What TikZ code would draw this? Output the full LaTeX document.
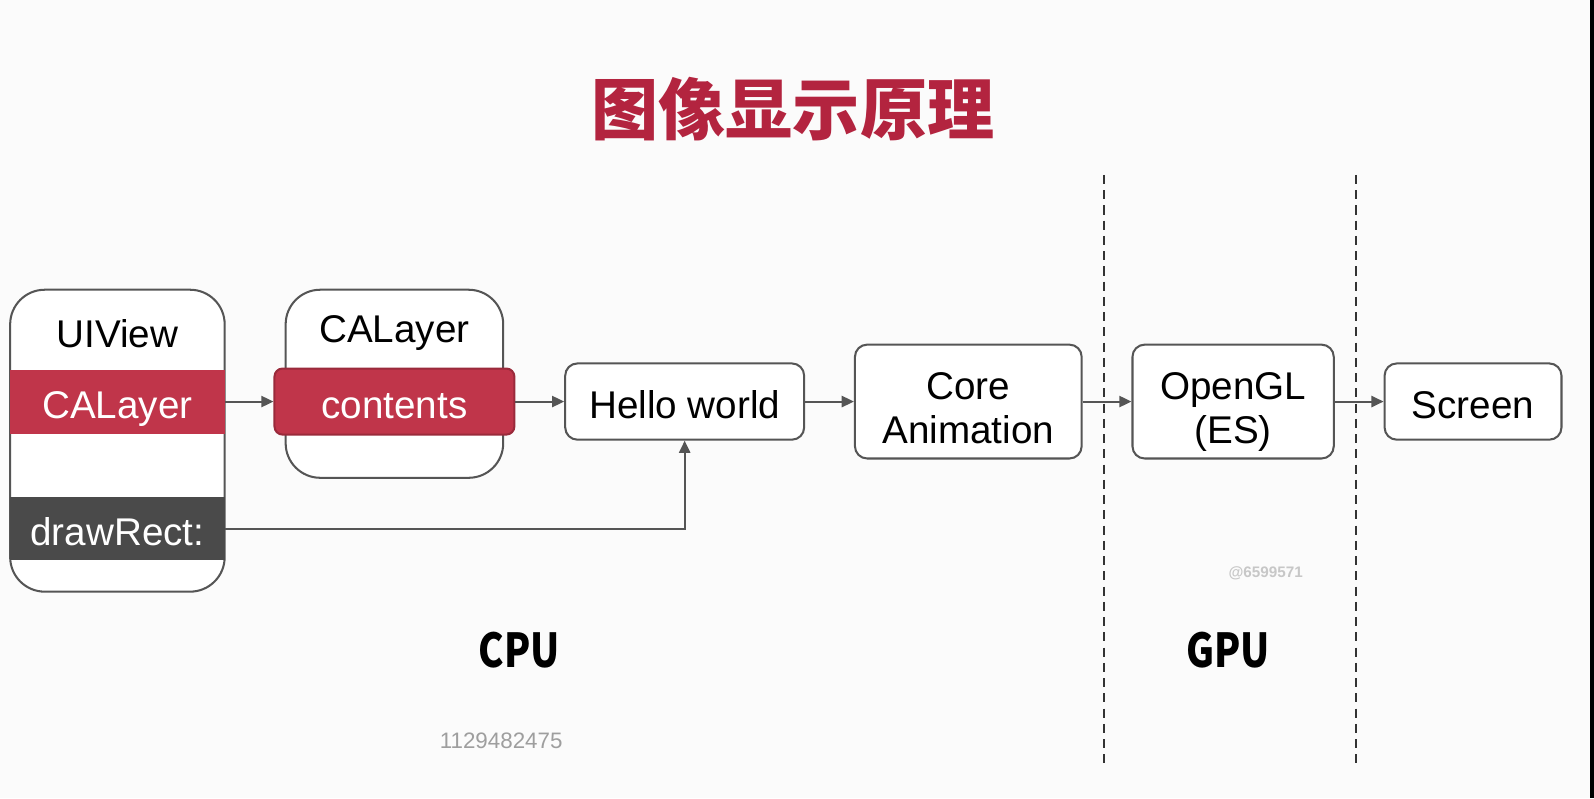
\documentclass[tikz,border=0pt]{standalone}
\usepackage{fontspec}
\setmainfont{Liberation Sans}
\newfontfamily\cjk{Noto Sans CJK SC}
\newfontfamily\stagefont[FakeStretch=0.82]{Noto Sans CJK SC}
\usetikzlibrary{shapes,arrows,arrows.meta}
\definecolor{titlered}{HTML}{B3243F}
\definecolor{layerred}{HTML}{C0354A}
\definecolor{rectgray}{HTML}{4A4A4A}
\definecolor{edgegray}{HTML}{555555}
\definecolor{paper}{HTML}{FBFBFB}
\tikzstyle{holder} = [rectangle, draw=edgegray, line width=2pt, fill=white,
    rounded corners=34pt, inner sep=0pt]
\tikzstyle{block} = [rectangle, draw=edgegray, line width=2pt, fill=white,
    rounded corners=12pt, align=center, inner sep=0pt,
    text height=34pt, text depth=0pt, font=\fontsize{38}{44}\selectfont]
\tikzstyle{twoline} = [text height=83pt, text depth=0pt]
\tikzstyle{band} = [rectangle, minimum width=211pt, inner sep=0pt, text=white,
    text height=34pt, text depth=0pt, font=\fontsize{38}{44}\selectfont]
\tikzstyle{boxname} = [font=\fontsize{38}{44}\selectfont, inner sep=0pt]
\tikzstyle{line} = [draw=edgegray, line width=2pt, -{Triangle[length=12pt,width=11pt]}]
\tikzstyle{divider} = [draw=black!80, line width=2pt, dash pattern=on 9pt off 6pt]
\tikzstyle{stage} = [font=\stagefont\bfseries\fontsize{46}{50}\selectfont, inner sep=0pt]

\begin{document}
\begin{tikzpicture}[x=1pt, y=-1pt]
    \fill[paper] (0,0) rectangle (1568,785);
    \useasboundingbox (0,0) rectangle (1568,785);
    \fill[black] (1564,0) rectangle (1568,785);
    % Title
    \node [font=\cjk\bfseries\fontsize{66}{72}\selectfont, text=titlered] (title) at (780,107) {图像显示原理};
    % Place nodes
    \node [holder, minimum width=211pt, minimum height=297pt] (uiview) at (115.5,433.5) {};
    \node [boxname] (uiviewname) at (115.5,328) {UIView};
    \node [band, fill=layerred, minimum height=63pt] (uilayer) at (115.5,395) {CALayer};
    \node [band, fill=rectgray, minimum height=62pt] (drawrect) at (115.5,520) {drawRect:};
    \node [holder, minimum width=214pt, minimum height=185pt] (calayer) at (388,377.5) {};
    \node [boxname] (calayername) at (388,328) {CALayer};
    \node [block, draw=layerred!80!black, fill=layerred, text=white, rounded corners=8pt,
        minimum width=236pt, minimum height=65pt] (contents) at (388,395) {contents};
    \node [block, minimum width=235pt, minimum height=75pt] (hello) at (673.5,395) {Hello world};
    \node [block, twoline, minimum width=223pt, minimum height=112pt] (coreanim) at (952.5,395) {Core\\Animation};
    \node [block, twoline, minimum width=198pt, minimum height=112pt] (opengl) at (1213,395) {OpenGL\\(ES)};
    \node [block, minimum width=174pt, minimum height=75pt] (screen) at (1449,395) {Screen};
    % Dividers
    \coordinate (cputop) at (1086,172);
    \coordinate (cpubottom) at (1086,755);
    \coordinate (gputop) at (1334,172);
    \coordinate (gpubottom) at (1334,755);
    \path [divider] (cputop) -- (cpubottom);
    \path [divider] (gputop) -- (gpubottom);
    \node [stage] (cpu) at (511,639) {CPU};
    \node [stage] (gpu) at (1208,639) {GPU};
    % Watermarks
    \node [font=\bfseries\fontsize{15}{18}\selectfont, text=black!22] (mark) at (1245,564) {@6599571};
    \node [font=\fontsize{22}{26}\selectfont, text=black!38] (uid) at (493,729) {1129482475};
    % Draw edges
    \path [line] (uilayer) -- (contents);
    \path [line] (contents) -- (hello);
    \path [line] (hello) -- (coreanim);
    \path [line] (coreanim) -- (opengl);
    \path [line] (opengl) -- (screen);
    \path [line] (drawrect.east) -| (hello.south);
\end{tikzpicture}
\end{document}
